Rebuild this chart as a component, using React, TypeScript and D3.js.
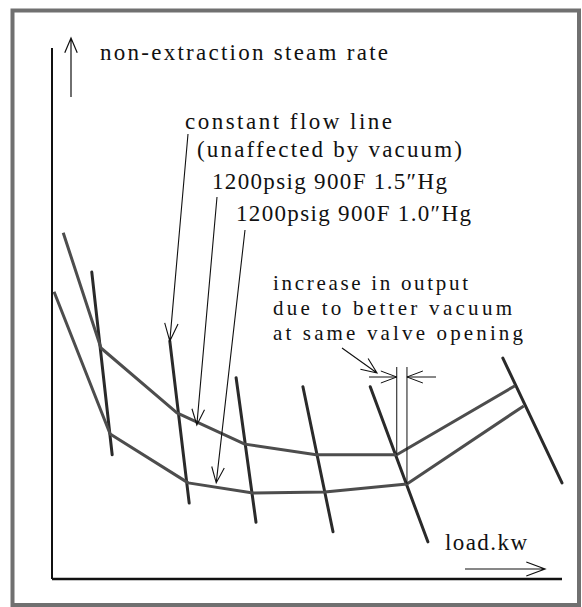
import * as d3 from "d3";

const W = 582;
const H = 607;

// load (x) and steam rate (y), both on a 0-100 relative scale
const loadUpper = [2.2, 9.6, 24.5, 37.8, 51.8, 67.6, 90.8];
const rateUpper = [65.2, 43.5, 31.3, 25.4, 23.4, 23.4, 36.4];
const loadLower = [0.4, 11.4, 26.7, 39.4, 53.5, 69.6, 92.5];
const rateLower = [54.1, 27.3, 18.1, 16.2, 16.4, 17.9, 32.6];

// constant flow lines, top and bottom ends
const flowLoadTop = [7.8, 23.1, 36.1, 49.2, 62.4, 88.4];
const flowRateTop = [57.8, 44.8, 37.9, 36.2, 36.2, 41.6];
const flowLoadBottom = [11.8, 26.9, 40.0, 55.1, 73.7, 100];
const flowRateBottom = [23.4, 14.3, 10.7, 8.9, 7.0, 18.1];

const yLabel = "non-extraction steam rate";
const xLabel = "load.kw";
const labelLines = [
  "constant flow line",
  "(unaffected by vacuum)",
  "1200psig 900F 1.5\u2033Hg",
  "1200psig 900F 1.0\u2033Hg",
];
const noteLines = ["increase in output", "due to better vacuum", "at same valve opening"];

function arrow(x1: number, y1: number, x2: number, y2: number, len = 17, ang = 0.38) {
  const a = Math.atan2(y2 - y1, x2 - x1);
  const w1x = x2 - len * Math.cos(a - ang);
  const w1y = y2 - len * Math.sin(a - ang);
  const w2x = x2 - len * Math.cos(a + ang);
  const w2y = y2 - len * Math.sin(a + ang);
  return `M${x1},${y1}L${x2},${y2}M${w1x},${w1y}L${x2},${y2}L${w2x},${w2y}`;
}

export default function App() {
  const x = d3.scaleLinear().domain([0, 100]).range([52, 562]);
  const y = d3.scaleLinear().domain([0, 100]).range([579, 48]);

  const line = d3
    .line<[number, number]>()
    .x((d) => x(d[0]))
    .y((d) => y(d[1]));

  const upper = loadUpper.map((l, i) => [l, rateUpper[i]] as [number, number]);
  const lower = loadLower.map((l, i) => [l, rateLower[i]] as [number, number]);

  const family = "Liberation Serif, DejaVu Serif, serif";
  const textStyle = { fontFamily: family, fontSize: 23 };
  const noteStyle = { fontFamily: family, fontSize: 21 };

  // annotation layout (pixels)
  const labelX = [185, 197, 212, 236];
  const labelY = [129, 157, 189, 221];
  const labelLen = [207, 265, 235, 235];
  const noteY = [290, 315, 340];
  const noteLen = [195, 239, 250];

  const tip1: [number, number] = [x(flowLoadTop[1]), y(flowRateTop[1])];
  const tip2: [number, number] = [x(28.4), y(29.0)];
  const tip3: [number, number] = [x(32.2), y(18.1)];

  const dimL = x(loadUpper[5]);
  const dimR = x(loadLower[5]);
  const dimY = 377;

  return (
    <div style={{ position: "absolute", left: 0, top: 0, width: W, height: H, background: "#fff" }}>
      <svg width={W} height={H} viewBox={`0 0 ${W} ${H}`} style={{ display: "block" }}>
        <rect x={0} y={0} width={W} height={H} fill="#fff" />
        <rect x={12.5} y={10.5} width={566.5} height={594.5} fill="none" stroke="#707070" strokeWidth={4} />

        {/* axes */}
        <line x1={x(0)} y1={48} x2={x(0)} y2={y(0)} stroke="#111" strokeWidth={2} />
        <line x1={x(0)} y1={y(0)} x2={x(100)} y2={y(0)} stroke="#111" strokeWidth={2.4} />

        <path d={arrow(71, 97, 71, 38, 16, 0.4)} fill="none" stroke="#111" strokeWidth={1.2} />
        <text x={100} y={60} style={textStyle} textLength={288} lengthAdjust="spacing" fill="#111">
          {yLabel}
        </text>

        <path d={arrow(465, 569, 545, 569, 20, 0.36)} fill="none" stroke="#111" strokeWidth={1.2} />
        <text x={445} y={550} style={textStyle} textLength={82} lengthAdjust="spacing" fill="#111">
          {xLabel}
        </text>

        {/* constant flow lines */}
        {flowLoadTop.map((l, i) => (
          <line
            key={i}
            x1={x(l)}
            y1={y(flowRateTop[i])}
            x2={x(flowLoadBottom[i])}
            y2={y(flowRateBottom[i])}
            stroke="#2a2a2a"
            strokeWidth={3}
            strokeLinecap="round"
          />
        ))}

        {/* vacuum curves */}
        <path d={line(upper) ?? ""} fill="none" stroke="#4d4d4d" strokeWidth={3} strokeLinejoin="round" />
        <path d={line(lower) ?? ""} fill="none" stroke="#4d4d4d" strokeWidth={3} strokeLinejoin="round" />

        {/* labels */}
        {labelLines.map((t, i) => (
          <text
            key={i}
            x={labelX[i]}
            y={labelY[i]}
            style={textStyle}
            textLength={labelLen[i]}
            lengthAdjust="spacing"
            fill="#111"
          >
            {t}
          </text>
        ))}
        <path d={arrow(188, 134, tip1[0], tip1[1], 19, 0.36)} fill="none" stroke="#111" strokeWidth={1.1} />
        <path d={arrow(217, 197, tip2[0], tip2[1], 17, 0.38)} fill="none" stroke="#111" strokeWidth={1.1} />
        <path d={arrow(245, 230, tip3[0], tip3[1], 17, 0.38)} fill="none" stroke="#111" strokeWidth={1.1} />

        {noteLines.map((t, i) => (
          <text
            key={i}
            x={273}
            y={noteY[i]}
            style={noteStyle}
            textLength={noteLen[i]}
            lengthAdjust="spacing"
            fill="#111"
          >
            {t}
          </text>
        ))}
        <path d={arrow(342, 348, 377, 373, 17, 0.4)} fill="none" stroke="#111" strokeWidth={1.1} />

        {/* dimension lines */}
        <line x1={dimL} y1={367} x2={dimL} y2={y(rateUpper[5])} stroke="#111" strokeWidth={1} />
        <line x1={dimR} y1={367} x2={dimR} y2={y(rateLower[5])} stroke="#111" strokeWidth={1} />
        <path d={arrow(369, dimY, dimL, dimY, 17, 0.36)} fill="none" stroke="#111" strokeWidth={1} />
        <path d={arrow(436, dimY, dimR, dimY, 17, 0.36)} fill="none" stroke="#111" strokeWidth={1} />
      </svg>
    </div>
  );
}
